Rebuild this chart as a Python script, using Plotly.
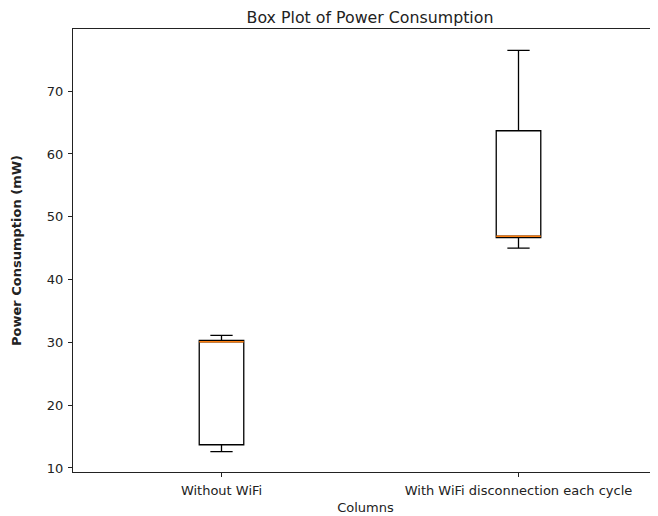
import plotly.graph_objects as go

categories = ["Without WiFi", "With WiFi disconnection each cycle"]
positions = [1, 2]
lower_whisker = [12.6, 45.0]
q1 = [13.7, 46.7]
median = [30.1, 46.9]
q3 = [30.3, 63.7]
upper_whisker = [31.1, 76.5]

box_width = 0.15
font = "DejaVu Sans"

# the page body has an 8px margin, so the figure is sized to fit the window
W, H = 650, 508

fig = go.Figure()
for i, cat in enumerate(categories):
    fig.add_trace(go.Box(
        x=[positions[i]], q1=[q1[i]], median=[median[i]], q3=[q3[i]],
        lowerfence=[lower_whisker[i]], upperfence=[upper_whisker[i]],
        width=box_width, whiskerwidth=0.5,
        fillcolor="rgba(0,0,0,0)", line=dict(color="black", width=1.3),
        boxpoints=False, showlegend=False, name=cat, hoverinfo="skip",
    ))
    fig.add_trace(go.Scatter(
        x=[positions[i] - box_width / 2, positions[i] + box_width / 2],
        y=[median[i], median[i]], mode="lines",
        line=dict(color="#ff7f0e", width=1.3), showlegend=False, hoverinfo="skip",
    ))

fig.update_layout(
    width=W, height=H,
    margin=dict(l=65, r=0, t=21, b=44, autoexpand=False),
    plot_bgcolor="white", paper_bgcolor="white",
    font=dict(family=font, size=13, color="#222"),
    title=dict(text="Box Plot of Power Consumption", x=362 / W, xref="container",
               xanchor="center", y=1 - 9 / H, yref="container", yanchor="middle",
               font=dict(size=15.8, color="#222")),
    xaxis=dict(range=[0.5, 0.5 + (W - 65) / 297], tickvals=positions, ticktext=categories,
               showline=True, linecolor="#222", linewidth=1.2, mirror=True, automargin=False,
               ticks="outside", ticklen=4, tickcolor="#222", showgrid=False, zeroline=False,
               ticklabelstandoff=2,
               title=dict(text="Columns", standoff=6, font=dict(size=13))),
    yaxis=dict(range=[9.36, 79.9], tickvals=[10, 20, 30, 40, 50, 60, 70],
               showline=True, linecolor="#222", linewidth=1.2, mirror=False, automargin=False,
               ticks="outside", ticklen=4, tickcolor="#222", showgrid=False, zeroline=False,
               ticklabelstandoff=2,
               title=dict(text="<b>Power Consumption (mW)</b>", standoff=22, font=dict(size=13))),
)

fig.write_html("out.html", config={"displayModeBar": False})
